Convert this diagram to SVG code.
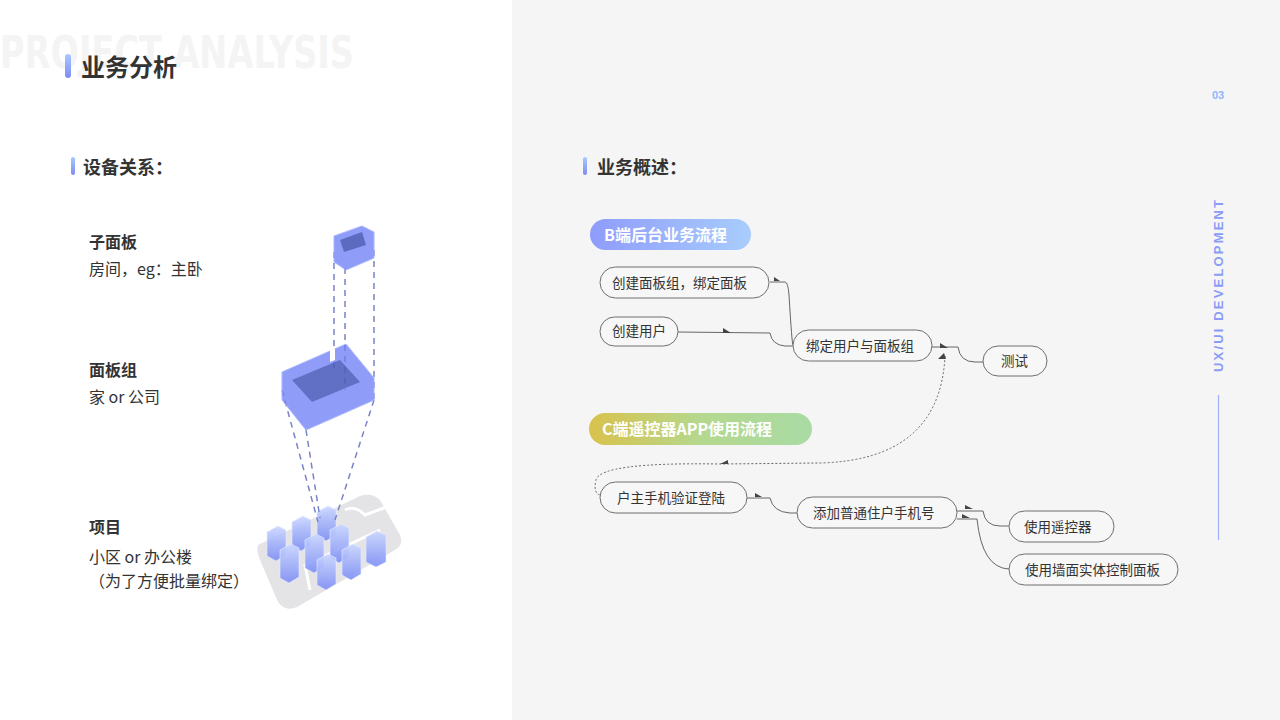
<svg xmlns="http://www.w3.org/2000/svg" width="1280" height="720" viewBox="0 0 1280 720">
<defs>
<linearGradient id="gb" x1="0" x2="1"><stop offset="0" stop-color="#8f9cfb"/><stop offset="1" stop-color="#a8cdfc"/></linearGradient>
<linearGradient id="gc" x1="0" x2="1"><stop offset="0" stop-color="#d9c24c"/><stop offset="0.5" stop-color="#b5d88e"/><stop offset="1" stop-color="#a9dba4"/></linearGradient>
<linearGradient id="bar" x1="0" y1="0" x2="0" y2="1"><stop offset="0" stop-color="#a9c8ff"/><stop offset="1" stop-color="#7d8cf5"/></linearGradient>
<linearGradient id="bld" x1="0" y1="0" x2="0" y2="1"><stop offset="0" stop-color="#c9d6ff"/><stop offset="1" stop-color="#7c8df5"/></linearGradient>
<style>
.n rect{fill:#f7f7f7;stroke:#6e6e6e;stroke-width:1}
.n text{font-family:"Noto Sans CJK SC","Noto Sans",sans-serif;font-size:13.5px;fill:#333}
.t{font-family:"Noto Sans CJK SC","Noto Sans",sans-serif;font-size:16px;fill:#333}
.h{font-family:"Noto Sans CJK SC",sans-serif;font-weight:700;fill:#333}
.c path.l{fill:none;stroke:#666;stroke-width:1}
.c path.d{fill:none;stroke:#666;stroke-width:1;stroke-dasharray:2 2}
.c polygon{fill:#444}
.ds{stroke:#7a82c8;stroke-width:1.5;stroke-dasharray:6 5;fill:none}
.box{fill:#6b7cf5;fill-opacity:.75;stroke:#a9b6ff;stroke-width:1}
</style>
</defs>
<rect width="1280" height="720" fill="#ffffff"/>
<rect x="512" width="768" height="720" fill="#f5f5f5"/>
<text x="0" y="68" font-family="DejaVu Sans Condensed,Liberation Sans,sans-serif" font-weight="700" font-size="44" fill="#f4f4f4" textLength="354" lengthAdjust="spacingAndGlyphs">PROJECT  ANALYSIS</text>
<rect x="65" y="54" width="6" height="24" rx="3" fill="url(#bar)"/>
<text x="81" y="76" class="h" font-size="24">业务分析</text>
<rect x="71" y="157" width="4" height="18" rx="2" fill="url(#bar)"/>
<text x="83" y="174" class="h" font-size="18">设备关系：</text>
<rect x="583" y="157" width="4" height="18" rx="2" fill="url(#bar)"/>
<text x="597" y="174" class="h" font-size="18">业务概述：</text>
<text x="1218" y="99" font-family="Liberation Sans,sans-serif" font-weight="700" font-size="11" fill="#8fb5fb" text-anchor="middle">03</text>
<text transform="translate(1223,372) rotate(-90)" font-family="Liberation Sans,sans-serif" font-weight="700" font-size="13" fill="#8a9cf5" textLength="172">UX/UI DEVELOPMENT</text>
<line x1="1218.5" y1="395" x2="1218.5" y2="540" stroke="#9db0fb" stroke-width="1.2"/>

<text x="89" y="248" class="h" font-size="16">子面板</text>
<text x="89" y="275" class="t">房间，eg：主卧</text>
<text x="89" y="376" class="h" font-size="16">面板组</text>
<text x="89" y="403" class="t">家 or 公司</text>
<text x="89" y="533" class="h" font-size="16">项目</text>
<text x="89" y="563" class="t">小区 or 办公楼</text>
<text x="89" y="587" class="t">（为了方便批量绑定）</text>

<g id="illustration">
<path d="M258 545 L360 496 Q372 492 380 500 L400 535 Q404 545 395 550 L297 607 Q285 612 278 602 L260 560 Q256 550 258 545Z" fill="#e4e3e6"/>
<path d="M310 590 L305 565 L380 530 M345 510 Q355 505 365 515 L392 505" stroke="#fff" stroke-width="3" fill="none"/>
<g fill="url(#bld)" fill-opacity=".9" stroke="#e5ecff" stroke-width=".6">
<path d="M267 532 L278 526 L286 530 L286 555 L276 561 L267 556Z"/>
<path d="M292 522 L303 516 L311 520 L311 545 L301 551 L292 546Z"/>
<path d="M317 512 L328 506 L336 510 L336 535 L326 541 L317 536Z"/>
<path d="M280 550 L291 544 L299 548 L299 577 L289 583 L280 578Z"/>
<path d="M305 540 L316 534 L324 538 L324 567 L314 573 L305 568Z"/>
<path d="M330 530 L341 524 L349 528 L349 557 L339 563 L330 558Z"/>
<path d="M317 560 L328 554 L336 558 L336 584 L326 590 L317 585Z"/>
<path d="M342 550 L353 544 L361 548 L361 574 L351 580 L342 575Z"/>
<path d="M366 537 L377 531 L386 535 L386 562 L376 567 L366 562Z"/>
</g>
<path class="ds" d="M334 252 L334 370 M345 268 L345 390 M374 250 L374 400 M282 390 L318 522 M306 430 L320 518 M374 400 L335 520"/>
<path class="box" d="M334 236 L362 226 L374 232 L374 258 L346 270 L334 262Z"/>
<path d="M340 240 L362 232 L366 245 L344 252Z" fill="#3a4a9a" fill-opacity=".6"/>
<path class="box" d="M282 372 L346 344 L374 378 L374 400 L306 430 L282 400Z"/>
<path d="M292 380 L340 360 L360 382 L312 402Z" fill="#3a4a9a" fill-opacity=".55"/>
<path d="M330 350 L335 348 L335 360 L330 362Z" fill="#fff"/>
</g>

<g id="b-badge"><rect x="590" y="219" width="161" height="31" rx="15.5" fill="url(#gb)"/><text x="604" y="241" class="h" font-size="16" style="fill:#fff">B端后台业务流程</text></g>
<g id="c-badge"><rect x="589" y="413" width="223" height="32" rx="16" fill="url(#gc)"/><text x="602" y="435" class="h" font-size="16" style="fill:#fff">C端遥控器APP使用流程</text></g>

<g class="c" id="connectors">
<path class="l" d="M770 282 L785 282 Q788 282 789 295 Q792 345 793 345"/>
<polygon points="774,281 780,281 774,277"/>
<path class="l" d="M678 332 L770 333 Q772 345 785 346 L793 346"/>
<polygon points="723,333 731,333 723,328"/>
<path class="l" d="M932 347 L958 347 Q960 362 975 362 L983 362"/>
<polygon points="940,348 948,348 940,343"/>
<path class="d" d="M945 356 Q940 460 820 463 L720 464 Q600 462 596 480 Q593 493 600 495"/>
<polygon points="938,359 946,359 944,353"/>
<polygon points="720,464 728,464 728,460"/>
<path class="l" d="M747 498 L770 498 Q773 512 790 513 L797 513"/>
<polygon points="755,497 762,497 755,493"/>
<path class="l" d="M957 511 L983 511 Q985 526 1000 526 L1009 526"/>
<polygon points="965,509 973,509 965,505"/>
<path class="l" d="M957 519 L977 519 Q982 568 1009 569"/>
<polygon points="962,518 970,518 962,514"/>
</g>

<g class="n" id="n1"><rect x="600" y="267" width="169" height="31" rx="15.5"/><text x="612" y="288">创建面板组，绑定面板</text></g>
<g class="n" id="n2"><rect x="600" y="317" width="78" height="29" rx="14.5"/><text x="612" y="336">创建用户</text></g>
<g class="n" id="n3"><rect x="793" y="330" width="139" height="31" rx="15.5"/><text x="806" y="351">绑定用户与面板组</text></g>
<g class="n" id="n4"><rect x="983" y="346" width="64" height="30" rx="15"/><text x="1001" y="366">测试</text></g>
<g class="n" id="n5"><rect x="600" y="482" width="147" height="31" rx="15.5"/><text x="617" y="503">户主手机验证登陆</text></g>
<g class="n" id="n6"><rect x="797" y="497" width="160" height="31" rx="15.5"/><text x="813" y="518">添加普通住户手机号</text></g>
<g class="n" id="n7"><rect x="1009" y="511" width="105" height="31" rx="15.5"/><text x="1024" y="532">使用遥控器</text></g>
<g class="n" id="n8"><rect x="1009" y="554" width="169" height="31" rx="15.5"/><text x="1025" y="575">使用墙面实体控制面板</text></g>
</svg>
